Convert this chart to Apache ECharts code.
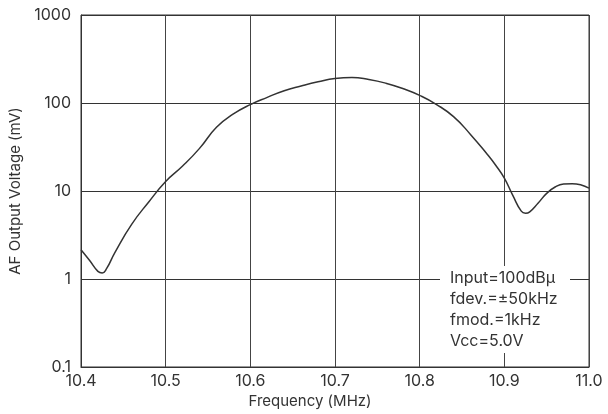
<!DOCTYPE html>
<html>
<head>
<meta charset="utf-8">
<script src="https://cdn.jsdelivr.net/npm/echarts@6/dist/echarts.min.js"></script>
<style>html,body{margin:0;padding:0;background:#fff}#c{width:608px;height:414px}</style>
</head>
<body>
<div id="c"></div>
<script>
const freq = [10.40, 10.41, 10.42, 10.425, 10.43, 10.44, 10.46, 10.48, 10.50, 10.52, 10.54, 10.56, 10.58, 10.60, 10.62, 10.64, 10.66, 10.68, 10.70, 10.72, 10.74, 10.76, 10.78, 10.80, 10.82, 10.84, 10.86, 10.88, 10.89, 10.90, 10.91, 10.92, 10.925, 10.93, 10.94, 10.95, 10.96, 10.97, 10.98, 11.00];
const voltage = [2.15, 1.63, 1.22, 1.17, 1.3, 2.0, 4.2, 7.5, 12.8, 19.2, 30.5, 53, 75, 96, 116, 138, 156, 174, 190, 195, 185, 168, 146, 122, 96, 70, 44, 26, 19.5, 14, 8.9, 5.9, 5.6, 5.8, 7.3, 9.4, 11.1, 12.0, 12.1, 10.8];
const xTickLabels = ['10.4', '10.5', '10.6', '10.7', '10.8', '10.9', '11.0'];
const yTickLabels = ['0.1', '1', '10', '100', '1000'];
const noteLines = ['Input=100dBμ', 'fdev.=±50kHz', 'fmod.=1kHz', 'Vcc=5.0V'];

const FONT = 'Inter';
const TXT = '#333';
const chart = echarts.init(document.getElementById('c'), null, {renderer: 'canvas'});
chart.setOption({
  animation: false,
  backgroundColor: '#fff',
  grid: {left: 77, right: 19, top: 15, bottom: 47, show: true, borderColor: '#333', borderWidth: 1, containLabel: false},
  xAxis: {
    type: 'value', min: 10.4, max: 11.0, interval: 0.1,
    name: 'Frequency (MHz)', nameLocation: 'middle', nameGap: 27,
    nameTextStyle: {fontFamily: FONT, fontSize: 15, color: TXT, padding: [0, 50, 0, 0]},
    axisLine: {show: true, lineStyle: {color: '#333', width: 1}},
    axisTick: {show: false},
    axisLabel: {fontFamily: FONT, fontSize: 16, color: TXT, margin: 6,
      formatter: v => xTickLabels[Math.round((v - 10.4) / 0.1)]},
    splitLine: {show: true, lineStyle: {color: '#444', width: 1}}
  },
  yAxis: {
    type: 'log', logBase: 10, min: 0.1, max: 1000,
    name: 'AF Output Voltage (mV)', nameLocation: 'middle', nameGap: 58,
    nameTextStyle: {fontFamily: FONT, fontSize: 15, color: TXT},
    axisLine: {show: true, lineStyle: {color: '#333', width: 1}},
    axisTick: {show: false},
    axisLabel: {fontFamily: FONT, fontSize: 16, color: TXT, margin: 10,
      formatter: v => yTickLabels[Math.round(Math.log10(v)) + 1]},
    splitLine: {show: true, lineStyle: {color: '#333', width: 1}},
    minorSplitLine: {show: false}
  },
  series: [{
    type: 'line', smooth: 0.5, symbol: 'none',
    data: freq.map((f, i) => [f, voltage[i]]),
    lineStyle: {color: '#333', width: 1.5},
    z: 3
  }],
  graphic: [
    {type: 'rect', left: 440, top: 266, shape: {width: 130, height: 87}, style: {fill: '#fff'}, z: 10},
    {type: 'text', left: 450, top: 268, z: 11,
      style: {text: noteLines.join('\n'), fontFamily: FONT, fontSize: 16, lineHeight: 21, fill: TXT}}
  ]
});
</script>
</body>
</html>
